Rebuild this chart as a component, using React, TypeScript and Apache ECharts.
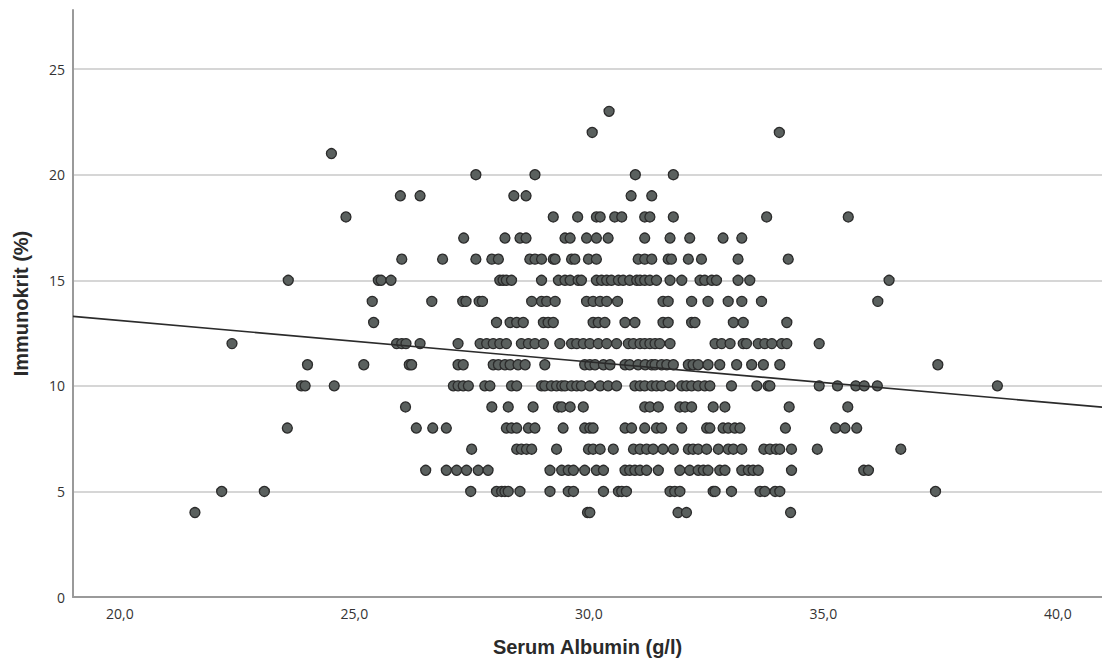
import React, { useEffect, useRef } from "react";
import * as echarts from "echarts";

// Immunokrit levels (%) and the Serum Albumin (g/l) values read for each level
const immunokritLevels = [4, 5, 6, 7, 8, 9, 10, 11, 12, 13, 14, 15, 16, 17, 18, 19, 20, 21, 22, 23];

const albuminAt4 = [21.6, 29.97, 30.02, 31.9, 32.08, 34.3];
const albuminAt5 = [22.17, 23.08, 27.48, 28.03, 28.14, 28.21, 28.28, 28.53, 29.17, 29.56, 29.67, 30.31, 30.63, 30.7, 30.8, 31.73, 31.83, 31.94, 32.65, 32.69, 33.04, 33.65, 33.75, 33.97, 34.07, 37.39];
const albuminAt6 = [26.52, 26.96, 27.18, 27.39, 27.64, 27.85, 29.17, 29.42, 29.56, 29.67, 29.91, 30.16, 30.31, 30.77, 30.87, 30.98, 31.09, 31.23, 31.48, 31.94, 32.15, 32.33, 32.44, 32.54, 32.79, 32.9, 33.26, 33.4, 33.5, 33.61, 34.32, 35.86, 35.96];
const albuminAt7 = [27.5, 28.46, 28.56, 28.67, 28.78, 29.31, 29.99, 30.09, 30.24, 30.52, 30.95, 31.09, 31.23, 31.37, 31.58, 31.8, 32.12, 32.22, 32.33, 32.51, 32.76, 32.97, 33.08, 33.26, 33.73, 33.86, 33.99, 34.07, 34.32, 34.87, 36.65];
const albuminAt8 = [23.57, 26.32, 26.67, 26.96, 28.24, 28.35, 28.46, 28.71, 28.85, 29.45, 29.91, 30.02, 30.09, 30.77, 30.91, 31.19, 31.44, 31.55, 31.98, 32.51, 32.58, 32.86, 32.97, 33.11, 33.22, 34.19, 35.26, 35.46, 35.71];
const albuminAt9 = [26.09, 27.93, 28.28, 28.81, 29.35, 29.42, 29.6, 29.88, 31.19, 31.3, 31.48, 31.94, 32.05, 32.19, 32.65, 32.9, 34.27, 35.52];
const albuminAt10 = [23.87, 23.95, 24.57, 27.11, 27.21, 27.32, 27.43, 27.78, 27.89, 28.35, 28.46, 28.99, 29.06, 29.2, 29.31, 29.42, 29.49, 29.63, 29.74, 29.84, 30.02, 30.24, 30.41, 30.59, 30.98, 31.09, 31.19, 31.34, 31.44, 31.55, 31.73, 31.98, 32.08, 32.19, 32.33, 32.47, 32.58, 33.04, 33.58, 33.82, 33.86, 34.91, 35.3, 35.69, 35.87, 36.15, 38.71];
const albuminAt11 = [24.0, 25.2, 26.17, 26.22, 27.21, 27.32, 27.96, 28.07, 28.21, 28.32, 28.49, 28.64, 29.06, 29.91, 30.02, 30.13, 30.31, 30.45, 30.77, 30.87, 31.05, 31.2, 31.34, 31.41, 31.55, 31.66, 31.8, 32.12, 32.22, 32.33, 32.54, 32.79, 33.15, 33.47, 33.72, 34.07, 37.44];
const albuminAt12 = [22.39, 25.9, 26.01, 26.1, 26.4, 27.21, 27.68, 27.82, 27.96, 28.1, 28.24, 28.56, 28.71, 28.85, 29.03, 29.38, 29.63, 29.74, 29.88, 30.02, 30.2, 30.38, 30.59, 30.84, 30.95, 31.09, 31.19, 31.3, 31.41, 31.51, 31.73, 32.69, 32.83, 33.01, 33.29, 33.36, 33.61, 33.75, 33.9, 34.11, 34.22, 34.91];
const albuminAt13 = [25.41, 28.03, 28.32, 28.46, 28.6, 29.03, 29.13, 29.24, 30.09, 30.2, 30.34, 30.77, 30.98, 31.58, 31.69, 32.19, 32.26, 33.08, 33.29, 34.22];
const albuminAt14 = [25.38, 26.65, 27.31, 27.38, 27.66, 27.73, 28.78, 28.99, 29.1, 29.28, 29.95, 30.09, 30.24, 30.38, 30.61, 31.58, 31.69, 32.19, 32.54, 32.97, 33.26, 33.68, 36.16];
const albuminAt15 = [23.59, 25.51, 25.57, 25.78, 28.1, 28.17, 28.24, 28.35, 28.99, 29.35, 29.49, 29.6, 29.77, 29.84, 30.16, 30.27, 30.38, 30.48, 30.63, 30.73, 30.87, 31.02, 31.09, 31.19, 31.3, 31.44, 31.73, 31.98, 32.37, 32.47, 32.62, 32.72, 33.18, 33.43, 36.4];
const albuminAt16 = [26.01, 26.88, 27.59, 27.93, 28.07, 28.74, 28.85, 28.99, 29.24, 29.28, 29.63, 29.7, 29.99, 30.16, 31.05, 31.19, 31.34, 31.69, 31.76, 32.12, 32.4, 33.18, 34.25];
const albuminAt17 = [27.33, 28.21, 28.53, 28.66, 29.49, 29.6, 29.95, 30.16, 30.41, 31.19, 31.73, 32.15, 32.86, 33.26];
const albuminAt18 = [24.82, 29.24, 29.76, 30.16, 30.24, 30.55, 30.7, 31.19, 31.3, 31.8, 33.79, 35.53];
const albuminAt19 = [25.98, 26.4, 28.4, 28.66, 30.9, 31.34];
const albuminAt20 = [27.59, 28.85, 30.99, 31.8];
const albuminAt21 = [24.51];
const albuminAt22 = [30.07, 34.06];
const albuminAt23 = [30.43];

const albuminByLevel = [
  albuminAt4, albuminAt5, albuminAt6, albuminAt7, albuminAt8, albuminAt9, albuminAt10,
  albuminAt11, albuminAt12, albuminAt13, albuminAt14, albuminAt15, albuminAt16, albuminAt17,
  albuminAt18, albuminAt19, albuminAt20, albuminAt21, albuminAt22, albuminAt23,
];

// Fit line (start and end at the axis range)
const fitX = [19.0, 40.94];
const fitY = [13.29, 8.99];

const xTickValues = [20, 25, 30, 35, 40];
const yTickValues = [0, 5, 10, 15, 20, 25];
const yGridValues = [5, 10, 15, 20, 25];

export default function App() {
  const ref = useRef<HTMLDivElement>(null);

  useEffect(() => {
    if (!ref.current) return;
    const chart = echarts.init(ref.current, undefined, { renderer: "svg" });

    const points: number[][] = [];
    immunokritLevels.forEach((lvl, i) => {
      albuminByLevel[i].forEach((a) => points.push([a, lvl]));
    });
    const fitData = fitX.map((x, i) => [x, fitY[i]]);

    chart.setOption({
      animation: false,
      backgroundColor: "#ffffff",
      grid: { left: 73, right: 0, top: 10, bottom: 65, containLabel: false },
      xAxis: {
        type: "value",
        min: 19.0,
        max: 40.94,
        name: "Serum Albumin (g/l)",
        nameLocation: "middle",
        nameGap: 40,
        nameTextStyle: { fontFamily: "Liberation Sans", fontWeight: "bold", fontSize: 20, color: "#2a2a2a" },
        axisLine: { show: true, onZero: false, lineStyle: { color: "#9a9a9a", width: 2 } },
        axisTick: { show: false },
        splitLine: { show: false },
        axisLabel: {
          customValues: xTickValues,
          margin: 9,
          fontFamily: "Open Sans",
          fontSize: 14,
          color: "#333333",
          formatter: (v: number) => v.toFixed(1).replace(".", ","),
        },
      },
      yAxis: {
        type: "value",
        min: 0,
        max: 27.8,
        name: "Immunokrit (%)",
        nameLocation: "middle",
        nameGap: 42,
        nameTextStyle: { fontFamily: "Liberation Sans", fontWeight: "bold", fontSize: 20, color: "#2a2a2a" },
        axisLine: { show: true, lineStyle: { color: "#9a9a9a", width: 2 } },
        axisTick: { show: false },
        splitLine: { show: false },
        axisLabel: {
          customValues: yTickValues,
          margin: 8,
          fontFamily: "Open Sans",
          fontSize: 14,
          color: "#333333",
          formatter: (v: number) => String(v),
        },
      },
      series: [
        {
          type: "scatter",
          data: points,
          symbol: "circle",
          symbolSize: 10,
          itemStyle: { color: "#5a605e", borderColor: "#2b2b2b", borderWidth: 1.3, opacity: 1 },
          markLine: {
            silent: true,
            symbol: ["none", "none"],
            label: { show: false },
            lineStyle: { color: "#c9c9c9", width: 1.5, type: "solid" },
            data: yGridValues.map((v) => ({ yAxis: v })),
            z: 0,
          },
          z: 2,
        },
        {
          type: "line",
          data: fitData,
          showSymbol: false,
          symbol: "none",
          lineStyle: { color: "#2b2b2b", width: 1.6 },
          z: 3,
        },
      ],
    });

    return () => chart.dispose();
  }, []);

  return (
    <div
      ref={ref}
      style={{ position: "fixed", left: 0, top: 0, width: 1102, height: 662, background: "#fff" }}
    />
  );
}
